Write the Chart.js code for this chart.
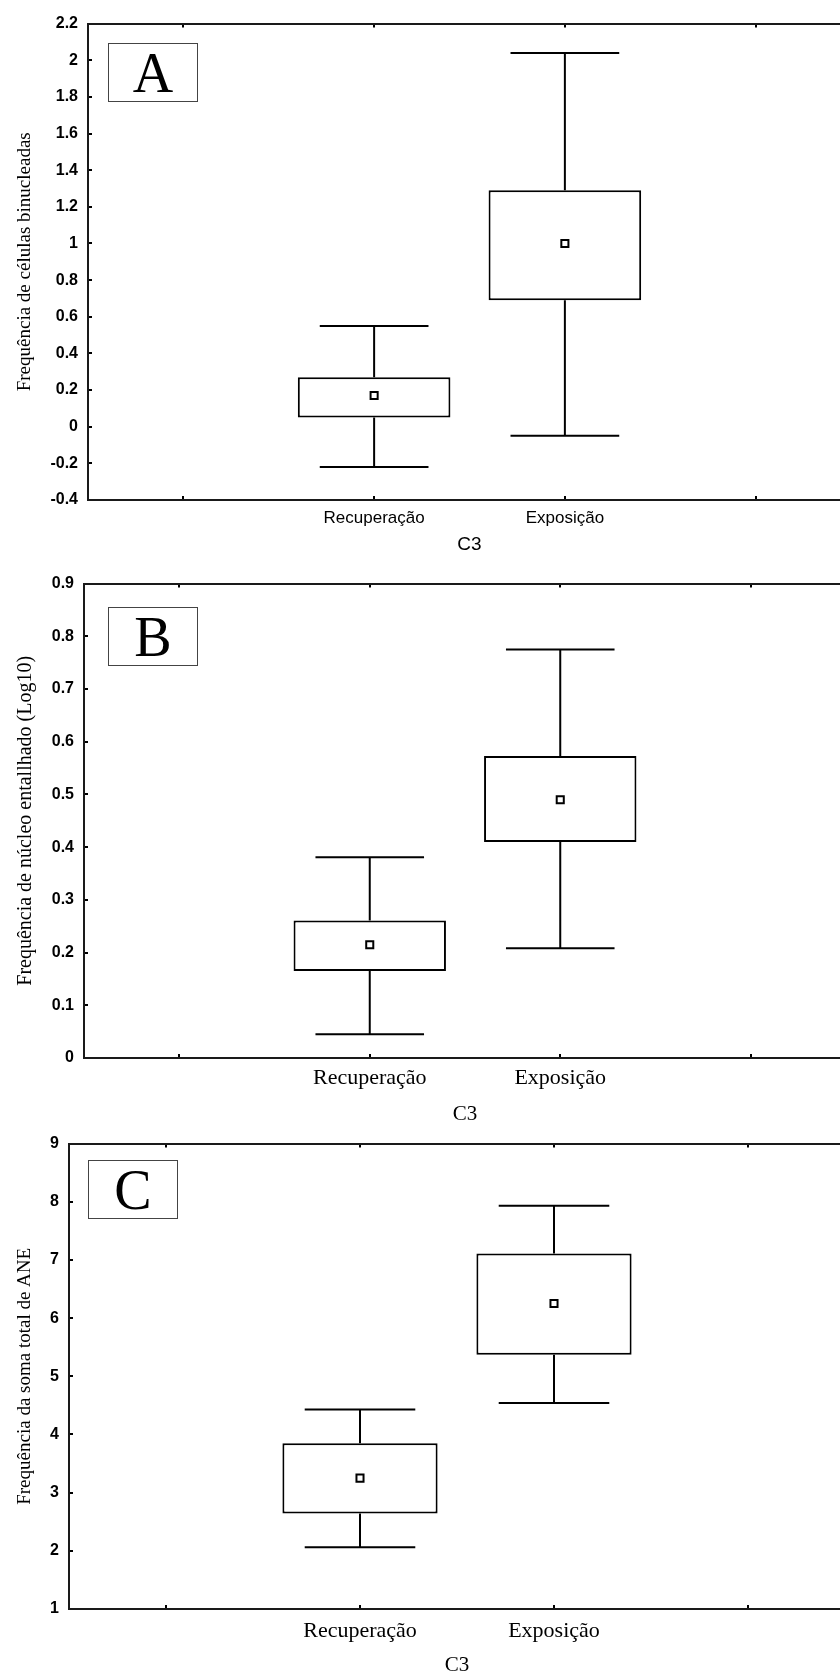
<!DOCTYPE html>
<html>
<head>
<meta charset="utf-8">
<title>C3 - Recuperação x Exposição</title>
<script src="https://cdn.jsdelivr.net/npm/chart.js@4.4.1/dist/chart.umd.min.js"></script>
<style>
  html, body { margin: 0; padding: 0; background: #fff; }
  body { width: 840px; height: 1676px; overflow: hidden; position: relative; }
  .panel { position: absolute; left: 0; width: 860px; }
  .panel canvas { display: block; }
  .tag {
    position: absolute;
    width: 88px;
    height: 57px;
    border: 1px solid #444;
    background: #fff;
    color: #000;
    font-family: 'Liberation Serif', serif;
    font-size: 56px;
    line-height: 58px;
    text-align: center;
  }
</style>
</head>
<body>

<div class="panel" style="top:0px"><canvas id="chart-a" width="860" height="556"></canvas></div>
<div class="panel" style="top:560px"><canvas id="chart-b" width="860" height="567"></canvas></div>
<div class="panel" style="top:1120px"><canvas id="chart-c" width="860" height="558"></canvas></div>

<div class="tag" style="left:108px; top:43px;">A</div>
<div class="tag" style="left:108px; top:607px;">B</div>
<div class="tag" style="left:88px; top:1160px;">C</div>

<script>
// ========================
// DATA
// ========================

const groupLabels = ['Recuperação', 'Exposição'];
const groupPositions = [1, 2];       // where each group sits on the x axis
const xTickValues = [0, 1, 2, 3];    // tick marks along the frame
const xTitle = 'C3';

// A - binucleated cells
const binMin  = [-0.22, -0.05];
const binQ1   = [0.05, 0.69];
const binMean = [0.17, 1.00];
const binQ3   = [0.27, 1.29];
const binMax  = [0.55, 2.04];
const binAxis = [-0.4, 2.2, 0.2];    // min, max, step
const binTitle = 'Frequência de células binucleadas';

// B - notched nucleus (log10)
const notMin  = [0.045, 0.208];
const notQ1   = [0.165, 0.41];
const notMean = [0.215, 0.49];
const notQ3   = [0.261, 0.573];
const notMax  = [0.381, 0.775];
const notAxis = [0, 0.9, 0.1];
const notTitle = 'Frequência de núcleo entallhado (Log10)';

// C - total sum of ANE
const aneMin  = [2.06, 4.54];
const aneQ1   = [2.64, 5.37];
const aneMean = [3.25, 6.25];
const aneQ3   = [3.85, 7.11];
const aneMax  = [4.43, 7.93];
const aneAxis = [1, 9, 1];
const aneTitle = 'Frequência da soma total de ANE';

// ========================
// HELPERS
// ========================

const CAP_HALF = 0.285; // half width of whisker caps, in x units

// whisker stems + caps, broken into segments with null points
function whiskerPoints(mins, q1s, q3s, maxs) {
  const pts = [];
  groupPositions.forEach((x, i) => {
    pts.push({ x, y: maxs[i] }, { x, y: q3s[i] }, { x, y: null });
    pts.push({ x, y: q1s[i] }, { x, y: mins[i] }, { x, y: null });
    pts.push({ x: x - CAP_HALF, y: maxs[i] }, { x: x + CAP_HALF, y: maxs[i] }, { x, y: null });
    pts.push({ x: x - CAP_HALF, y: mins[i] }, { x: x + CAP_HALF, y: mins[i] }, { x, y: null });
  });
  return pts;
}

function frameGrid() {
  return { drawOnChartArea: false, drawTicks: true, tickLength: -4, color: '#000', lineWidth: 2 };
}

function frameBorder() {
  return { display: true, color: '#1a1a1a', width: 2 };
}

function setXTicks(scale) {
  scale.ticks = xTickValues.map(v => ({ value: v }));
}

// "2.0" -> "2", "0.30000000000000004" -> "0.3"
function plainNumber(v) {
  return String(parseFloat(Number(v).toFixed(4)));
}

function makeBoxChart(canvasId, stats, axis, yTitle, look) {
  const [yMin, yMax, yStep] = axis;

  return new Chart(document.getElementById(canvasId), {
    type: 'bar',
    data: {
      datasets: [
        {
          type: 'scatter',
          data: groupPositions.map((x, i) => ({ x, y: stats.mean[i] })),
          pointStyle: 'rect',
          pointRadius: 5,
          pointBackgroundColor: '#fff',
          pointBorderColor: '#000',
          pointBorderWidth: 2,
          order: 0
        },
        {
          type: 'bar',
          data: groupPositions.map((x, i) => ({ x, y: [stats.q1[i], stats.q3[i]] })),
          backgroundColor: '#fff',
          borderColor: '#000',
          borderWidth: 2,
          borderSkipped: false,
          barPercentage: 0.8,
          categoryPercentage: 1,
          order: 1
        },
        {
          type: 'line',
          data: whiskerPoints(stats.min, stats.q1, stats.q3, stats.max),
          borderColor: '#000',
          borderWidth: 2,
          pointRadius: 0,
          fill: false,
          spanGaps: false,
          order: 2
        }
      ]
    },
    options: {
      responsive: false,
      animation: false,
      locale: 'en-US',
      layout: { padding: { top: look.plotTop, right: look.padRight, bottom: 0, left: 0 } },
      plugins: {
        legend: { display: false },
        tooltip: { enabled: false }
      },
      scales: {
        x: {
          type: 'linear',
          position: 'bottom',
          min: -0.5,
          max: 3.5,
          offset: false,
          afterBuildTicks: setXTicks,
          afterFit: sc => { sc.height = look.xAxisHeight; },
          grid: Object.assign(frameGrid(), { offset: false }),
          border: frameBorder(),
          ticks: {
            autoSkip: false,
            maxRotation: 0,
            padding: look.xPad,
            color: '#000',
            font: look.xFont,
            callback: v => {
              const i = groupPositions.indexOf(v);
              return i >= 0 ? groupLabels[i] : '';
            }
          },
          title: {
            display: true,
            text: xTitle,
            color: '#000',
            font: look.titleFont,
            padding: { top: 0, bottom: 0 }
          }
        },
        x2: {
          type: 'linear',
          position: 'top',
          min: -0.5,
          max: 3.5,
          offset: false,
          afterBuildTicks: setXTicks,
          afterFit: sc => { sc.height = 0; },
          grid: Object.assign(frameGrid(), { offset: false }),
          border: frameBorder(),
          ticks: { display: false }
        },
        y: {
          type: 'linear',
          position: 'left',
          min: yMin,
          max: yMax,
          beginAtZero: false,
          afterFit: sc => { sc.width = look.plotLeft; },
          grid: frameGrid(),
          border: frameBorder(),
          ticks: {
            stepSize: yStep,
            padding: 14,
            color: '#000',
            font: { family: 'Liberation Sans', size: 16, weight: 'bold' },
            callback: plainNumber
          },
          title: {
            display: true,
            text: yTitle,
            color: '#000',
            font: { family: 'Liberation Serif', size: look.yTitleSize },
            padding: { top: 14, bottom: 0 }
          }
        }
      }
    }
  });
}

// ========================
// INITIALIZATION
// ========================

makeBoxChart('chart-a',
  { min: binMin, q1: binQ1, mean: binMean, q3: binQ3, max: binMax },
  binAxis, binTitle,
  {
    plotTop: 15, plotLeft: 88, padRight: 9, xAxisHeight: 56, xPad: 12,
    yTitleSize: 19,
    xFont: { family: 'Liberation Sans', size: 17 },
    titleFont: { family: 'Liberation Sans', size: 19 }
  });

makeBoxChart('chart-b',
  { min: notMin, q1: notQ1, mean: notMean, q3: notQ3, max: notMax },
  notAxis, notTitle,
  {
    plotTop: 22, plotLeft: 84, padRight: 14, xAxisHeight: 69, xPad: 11,
    yTitleSize: 20,
    xFont: { family: 'Liberation Serif', size: 22 },
    titleFont: { family: 'Liberation Serif', size: 21 }
  });

makeBoxChart('chart-c',
  { min: aneMin, q1: aneQ1, mean: aneMean, q3: aneQ3, max: aneMax },
  aneAxis, aneTitle,
  {
    plotTop: 18, plotLeft: 69, padRight: 15, xAxisHeight: 69, xPad: 13,
    yTitleSize: 19,
    xFont: { family: 'Liberation Serif', size: 22 },
    titleFont: { family: 'Liberation Serif', size: 21 }
  });
</script>
</body>
</html>
